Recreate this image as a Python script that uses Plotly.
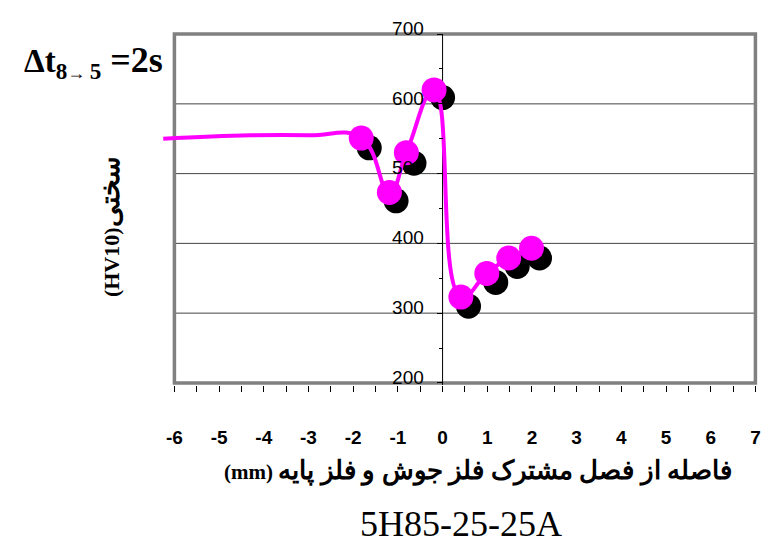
import plotly.graph_objects as go

# ---- data ----
LEAD_X = [-6.25, -4.3, -3.0]          # smoothed-line points without markers
LEAD_Y = [550, 555, 555]
MAG_X = [-1.82, -1.19, -0.81, -0.19, 0.41, 0.99, 1.48, 1.99]
MAG_Y = [551, 473, 530, 620, 323, 357, 379, 393]
BLK_X = [-1.64, -1.04, -0.64, 0.0, 0.58, 1.19, 1.67, 2.17]
BLK_Y = [537, 461, 515, 609, 310, 344, 367, 379]

X_TICKS = list(range(-6, 8))
X_TICK_TEXT = ["<b>%d</b>" % v for v in X_TICKS]
Y_TICKS = [200, 300, 400, 500, 600, 700]
Y_TICK_TEXT = [str(v) for v in Y_TICKS]
GRID_Y = [300, 400, 500, 600]

TITLE_HTML = ("<b>Δt</b><sub><b>8</b><span style='font-size:18px'>→ </span><b>5</b></sub>"
              "<b><span style='font-size:36px'> =2s</span></b>")
Y_TITLE = "<b>(HV10)<span style='font-size:27px'>سختی</span></b>"
X_TITLE = "<b>(mm) <span style='font-size:26px'>فاصله از فصل مشترک فلز جوش و فلز پایه</span></b>"
SUBTITLE = "5H85-25-25A"

X_RANGE = [-6.3, 7.08]
Y_RANGE = [197, 703]
FRAME_Y = [200, 700]

SANS = "Liberation Sans, Arial, sans-serif"
SERIF = "Liberation Serif, Times New Roman, DejaVu Serif, serif"

fig = go.Figure()

fig.add_trace(go.Scatter(
    x=BLK_X, y=BLK_Y, mode="markers",
    marker=dict(color="black", size=25, opacity=1, line=dict(width=0)),
    cliponaxis=False, hoverinfo="skip"))

fig.add_trace(go.Scatter(
    x=LEAD_X + MAG_X, y=LEAD_Y + MAG_Y, mode="lines",
    line=dict(color="#FF00FF", width=4, shape="spline", smoothing=1.3),
    hoverinfo="skip"))

fig.add_trace(go.Scatter(
    x=MAG_X, y=MAG_Y, mode="markers",
    marker=dict(color="#FF00FF", size=25, opacity=1, line=dict(width=0)),
    cliponaxis=False, hoverinfo="skip"))

shapes = []
for g in GRID_Y:
    shapes.append(dict(type="line", xref="x", yref="y", x0=X_TICKS[0], x1=X_TICKS[-1],
                       y0=g, y1=g, line=dict(color="#444444", width=1), layer="below"))
shapes.append(dict(type="rect", xref="x", yref="y", x0=X_TICKS[0], x1=X_TICKS[-1],
                   y0=FRAME_Y[0], y1=FRAME_Y[1], line=dict(color="#808080", width=3.5),
                   layer="below"))
# vertical value axis crossing at x = 0 (kept beneath the markers)
shapes.append(dict(type="line", xref="x", yref="y", x0=0, x1=0,
                   y0=Y_RANGE[0], y1=FRAME_Y[1], line=dict(color="black", width=1),
                   layer="below"))

y_pos = (0 - X_RANGE[0]) / (X_RANGE[1] - X_RANGE[0])

fig.update_layout(
    width=762, height=553,
    margin=dict(l=161, r=1, t=32, b=168),
    paper_bgcolor="white", plot_bgcolor="white",
    showlegend=False, hovermode=False,
    shapes=shapes,
    xaxis=dict(range=X_RANGE, tickvals=X_TICKS, ticktext=X_TICK_TEXT,
               showgrid=False, zeroline=False,
               showline=False, ticks="outside", ticklen=6, tickcolor="black", tickwidth=1,
               minor=dict(dtick=0.5, tick0=0, ticks="outside", ticklen=6, tickcolor="black", showgrid=False),
               tickfont=dict(family=SANS, size=19, color="black"),
               ticklabelstandoff=29, ticklabeloverflow="allow", fixedrange=True),
    yaxis=dict(range=Y_RANGE, tickvals=Y_TICKS, ticktext=Y_TICK_TEXT,
               showgrid=False, zeroline=False,
               anchor="free", position=y_pos, side="left",
               showline=False, layer="above traces",
               ticks="outside", ticklen=6, tickcolor="black", tickwidth=1,
               minor=dict(dtick=50, ticks="outside", ticklen=4, tickcolor="black", showgrid=False),
               tickfont=dict(family=SANS, size=19, color="black"),
               ticklabelstandoff=9, ticklabelshift=-6, fixedrange=True),
    annotations=[
        dict(text=TITLE_HTML, xref="paper", yref="paper", x=-0.233, y=0.915,
             xanchor="left", yanchor="middle", showarrow=False,
             font=dict(family=SERIF, size=33, color="black")),
        dict(text=Y_TITLE, xref="paper", yref="paper", x=-0.0854, y=0.45,
             xanchor="center", yanchor="middle", textangle=-90, showarrow=False,
             font=dict(family=SERIF, size=22, color="black")),
        dict(text=X_TITLE, xref="paper", yref="paper", x=0.53, y=-0.245,
             xanchor="center", yanchor="middle", showarrow=False,
             font=dict(family=SERIF, size=21, color="black")),
        dict(text=SUBTITLE, xref="paper", yref="paper", x=0.5025, y=-0.393,
             xanchor="center", yanchor="middle", showarrow=False,
             font=dict(family=SERIF, size=36, color="black")),
    ],
)

fig.write_html("out.html", config={"displayModeBar": False},
               post_script="document.body.style.margin='0';document.body.style.overflow='hidden';")
